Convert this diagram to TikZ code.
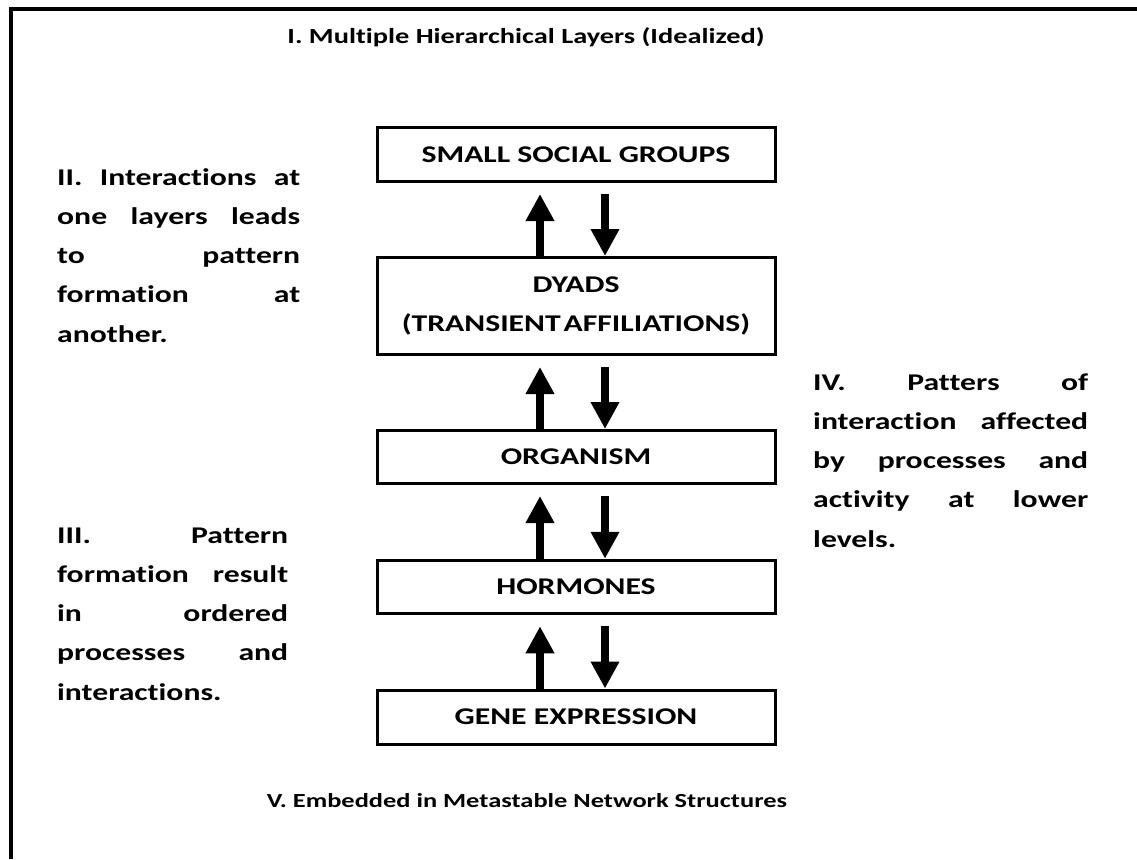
\documentclass[tikz,border=0pt]{standalone}
\usepackage{fontspec}
\setmainfont{Carlito}[Ligatures=NoCommon, FakeStretch=1.32]
\usetikzlibrary{arrows.meta}

\begin{document}
\begin{tikzpicture}[x=1pt,y=-1pt]
\tikzset{
  layer/.style={draw, line width=3pt, minimum width=398pt, inner sep=0pt, align=center,
    font=\fontsize{24}{39.3}\selectfont\bfseries},
  heading/.style={inner sep=0pt, anchor=base, font=\fontsize{#1}{30}\selectfont\bfseries},
  note/.style={inner sep=0pt, text width=#1, align=justify, anchor=base west,
    font=\fontsize{24}{39.3}\selectfont\bfseries},
  upflow/.style={line width=8pt, -{Triangle[width=27pt,length=27pt]}, shorten >=11pt},
  downflow/.style={line width=8pt, -{Triangle[width=27pt,length=27pt]}, shorten <=11pt}
}
\useasboundingbox (0,0) rectangle (1137,859);
\draw[line width=4pt] (11,859) |- (1137,9);

\node[heading=21.5] (title) at (526,44) {I. Multiple Hierarchical Layers (Idealized)};

\node[layer, minimum height=54pt] (groups) at (576,154.5) {SMALL SOCIAL GROUPS};
\node[layer, minimum height=97pt] (dyads) at (576,306) {DYADS\\(TRANSIENT\hspace{3pt}AFFILIATIONS)};
\node[layer, minimum height=53pt] (organism) at (576,457) {ORGANISM};
\node[layer, minimum height=53.5pt] (hormones) at (576,587) {HORMONES};
\node[layer, minimum height=54pt] (genes) at (576,717) {GENE EXPRESSION};

\foreach \lo/\hi in {dyads/groups, organism/dyads, hormones/organism, genes/hormones} {
  \draw[upflow] ([xshift=-36pt]\lo.north) -- ([xshift=-36pt]\hi.south);
  \draw[downflow] ([xshift=29pt]\hi.south) -- ([xshift=29pt]\lo.north);
}

\node[note=243pt] (interact) at (57,185) {II. Interactions at\linebreak one layers leads\linebreak to pattern\linebreak formation at\linebreak another.};
\node[note=231pt] (ordered) at (57,543) {III. Pattern\linebreak formation result\linebreak in ordered\linebreak processes and\linebreak interactions.};
\node[note=275pt] (lower) at (813,390) {IV. Patters of\linebreak interaction affected\linebreak by processes and\linebreak activity at lower\linebreak levels.};

\node[heading=20] (embed) at (527,807) {V. Embedded in Metastable Network Structures};
\end{tikzpicture}
\end{document}
